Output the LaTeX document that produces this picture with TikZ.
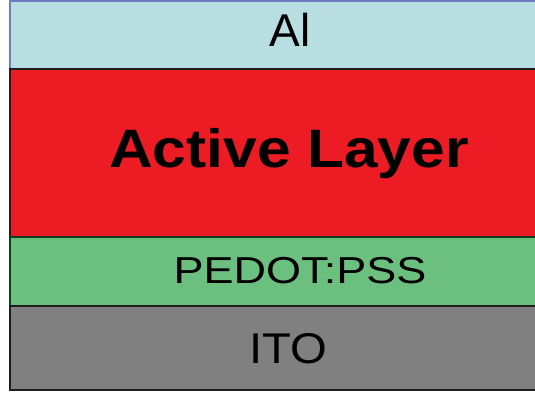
\documentclass[tikz,border=0pt]{standalone}
\usepackage{fontspec}
\setmainfont{Liberation Sans}
\definecolor{alfill}{RGB}{184,222,225}
\definecolor{alline}{RGB}{110,125,195}
\definecolor{actfill}{RGB}{237,28,36}
\definecolor{pedfill}{RGB}{108,192,127}
\definecolor{pedline}{RGB}{20,60,30}
\definecolor{itofill}{RGB}{128,128,128}
\definecolor{darkline}{RGB}{30,30,30}
\begin{document}
\begin{tikzpicture}[x=1pt,y=-1pt,
  layer/.style={line width=1.6pt},
  lbl/.style={anchor=base,inner sep=0pt,text=black}]
\useasboundingbox (0,0) rectangle (535,396);
\path[fill=white] (0,0) rectangle (535,396);
\draw[layer,fill=alfill,draw=alline] (10,0.8) rectangle (580,69);
\draw[layer,fill=actfill,draw=darkline] (10,69) rectangle (580,237);
\draw[layer,fill=pedfill,draw=pedline] (10,237) rectangle (580,306);
\draw[layer,fill=itofill,draw=darkline] (10,306) rectangle (580,390);
\node[lbl] (al) at (290,47) {\scalebox{1.0}[1]{\fontsize{46}{50}\selectfont Al}};
\node[lbl] (act) at (289,167) {\scalebox{1.12}[1]{\fontsize{54}{60}\selectfont\bfseries Active Layer}};
\node[lbl] (ped) at (300,283) {\scalebox{1.2}[1]{\fontsize{37.5}{42}\selectfont PEDOT:PSS}};
\node[lbl] (ito) at (288,363) {\scalebox{1.1}[1]{\fontsize{43}{48}\selectfont ITO}};
\end{tikzpicture}
\end{document}
